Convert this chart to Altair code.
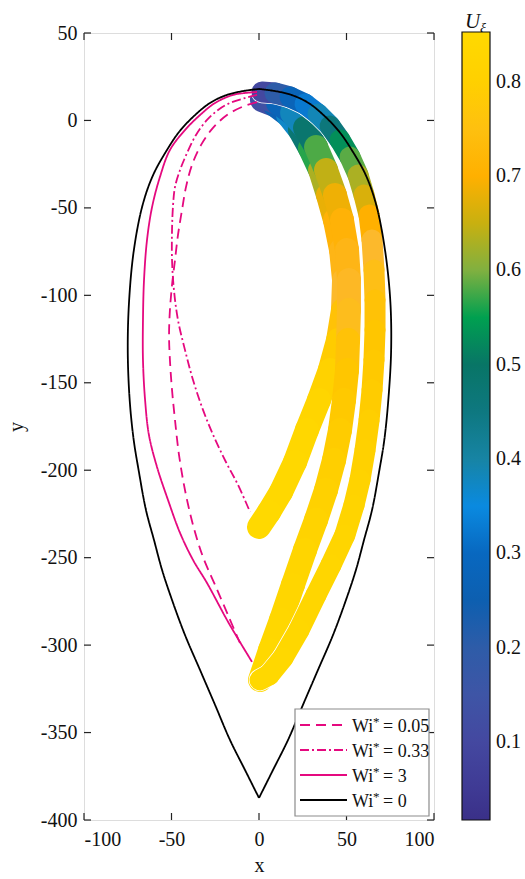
import altair as alt
import pandas as pd

# ---------------- data ----------------
# Wi* = 0 (black teardrop) : left half (top -> cusp) and right half (cusp -> top)
wi0L_x = [0, -9.1, -18.3, -28.0, -37.7, -45.7, -52.6, -60.5, -66.5, -71.5, -74.2, -75.0, -73.9,
          -71.6, -68.8, -64.6, -60.0, -55.4, -49.7, -42.3, -33.7, -25.1, -16.6, -8.0, 0]
wi0L_y = [18.0, 16.8, 14.6, 10.0, 2.0, -6.6, -16.9, -31.2, -48.3, -74.1, -102.7, -131.2, -159.8,
          -182.7, -199.9, -222.7, -239.9, -257.0, -274.2, -294.2, -314.2, -334.2, -354.2, -371.4, -387.4]
wi0R_x = [0, 8.0, 16.6, 25.1, 33.7, 42.3, 49.7, 55.4, 60.0, 64.6, 68.8, 71.6, 73.9, 75.5,
          75.0, 72.0, 67.0, 61.0, 53.0, 46.0, 38.0, 28.3, 18.5, 9.1, 0]
wi0R_y = [-387.4, -371.4, -354.2, -334.2, -314.2, -294.2, -274.2, -257.0, -239.9, -222.7, -199.9,
          -182.7, -159.8, -131.2, -102.7, -74.1, -48.3, -31.2, -16.9, -6.6, 2.0, 10.0, 14.6, 16.8, 18.0]

# Wi* = 3 (solid pink)
wi3_x = [-1.1, -8.0, -14.9, -25.1, -33.7, -42.3, -50.9, -56.6, -61.1, -64.0, -65.7, -66.3, -66.3,
         -65.1, -62.9, -58.3, -52.0, -45.1, -37.7, -29.7, -18.3, -10.9, -4.0]
wi3_y = [16.3, 15.7, 14.6, 10.0, 3.1, -5.5, -16.9, -32.3, -49.5, -68.4, -91.2, -114.1, -137.0,
         -159.8, -179.8, -198.1, -217.0, -235.9, -251.3, -264.5, -285.6, -298.2, -309.6]

# Wi* = 0.05 (dashed pink)
wi005_x = [-1.1, -9.7, -18.3, -26.3, -33.1, -38.3, -41.7, -44.0, -46.3, -48.0, -49.7, -50.9,
           -51.4, -50.9, -49.7, -48.0, -45.7, -42.3, -37.7, -32.0, -25.1, -17.7, -10.9]
wi005_y = [10.5, 7.7, 3.1, -4.3, -14.0, -25.5, -38.0, -51.2, -65.5, -79.8, -94.1, -108.4,
           -122.7, -137.0, -154.1, -171.3, -191.3, -211.3, -231.3, -249.6, -265.6, -282.8, -298.8]

# Wi* = 0.33 (dash-dot pink)
wi033_x = [-1.1, -8.0, -16.6, -23.4, -29.7, -36.0, -41.1, -45.1, -48.0, -49.1, -49.7, -49.7,
           -48.6, -46.3, -42.3, -37.7, -32.0, -25.7, -18.9, -12.0, -5.1]
wi033_y = [14.6, 12.8, 10.0, 6.0, 0.3, -8.3, -18.6, -28.3, -38.0, -48.3, -62.6, -79.8,
           -96.9, -114.1, -131.2, -148.4, -165.5, -181.0, -195.3, -208.4, -223.9]

# coloured particle paths (U_xi along path)
b1_x = [1.7, 9.1, 16.6, 23.4, 29.1, 34.9, 39.4, 43.4, 46.9, 48.6, 48.0, 45.2, 40.5, 34.3, 27.4,
        20.6, 12.6, 5.7, 0.0]
b1_y = [11.7, 8.8, 3.1, -5.5, -15.8, -28.3, -42.6, -56.9, -74.1, -91.2, -108.4, -125.5, -142.7,
        -159.8, -177.0, -195.3, -212.4, -223.9, -232.4]
b1_u = [0.05, 0.20, 0.32, 0.42, 0.53, 0.60, 0.66, 0.70, 0.71, 0.72, 0.74, 0.77, 0.80, 0.82, 0.83,
        0.84, 0.84, 0.85, 0.85]

b2_x = [2.3, 10.9, 18.9, 26.3, 32.6, 38.3, 43.4, 47.4, 50.3, 51.4, 51.4, 50.9, 50.3, 48.6, 46.3,
        42.9, 38.3, 32.6, 26.3, 19.4, 12.6, 6.3, 0.6]
b2_y = [13.4, 10.0, 4.3, -4.3, -15.2, -28.3, -42.6, -56.9, -74.1, -91.2, -108.4, -125.5, -142.7,
        -159.8, -177.0, -194.1, -211.3, -228.4, -245.6, -265.6, -285.6, -302.8, -319.9]
b2_u = [0.05, 0.22, 0.33, 0.43, 0.54, 0.62, 0.67, 0.70, 0.71, 0.72, 0.73, 0.75, 0.76, 0.77, 0.78,
        0.79, 0.80, 0.81, 0.82, 0.83, 0.83, 0.84, 0.84]

b3_x = [1.7, 9.1, 17.7, 26.3, 33.7, 40.6, 46.3, 52.0, 56.6, 60.0, 62.9, 64.6, 65.7, 66.3, 66.3,
        65.7, 64.6, 62.9, 60.6, 57.7, 54.3, 49.1, 41.1, 32.6, 22.9, 13.7, 5.7, 0.6]
b3_y = [16.3, 15.7, 13.4, 9.4, 3.7, -3.2, -11.2, -20.9, -31.2, -42.6, -54.1, -68.4, -85.5, -102.7,
        -119.8, -137.0, -154.1, -171.3, -188.4, -205.6, -219.9, -237.0, -254.2, -271.3, -291.3,
        -307.3, -317.1, -319.9]
b3_u = [0.05, 0.15, 0.25, 0.30, 0.35, 0.42, 0.50, 0.56, 0.61, 0.65, 0.68, 0.72, 0.74, 0.75, 0.76,
        0.77, 0.78, 0.79, 0.80, 0.81, 0.82, 0.82, 0.83, 0.83, 0.83, 0.84, 0.84, 0.84]

# colour map (colourbar)
cmap_stops = [0.017, 0.05, 0.10, 0.15, 0.20, 0.25, 0.30, 0.35, 0.40, 0.45, 0.50, 0.55, 0.60,
              0.65, 0.70, 0.73, 0.76, 0.80, 0.853]
cmap_colors = ["#3a3088", "#3f3a94", "#4448a0", "#3e55a6", "#2e5ca8", "#0d5fb0", "#0868c0",
               "#0a8ae0", "#1784a4", "#0e7880", "#087566", "#00a050", "#80b040", "#c8b010",
               "#ffb000", "#fcb92c", "#ffc400", "#ffd000", "#ffda00"]
cbar_ticks = [0.1, 0.2, 0.3, 0.4, 0.5, 0.6, 0.7, 0.8]

x_ticks = [-100, -50, 0, 50, 100]
y_ticks = [50, 0, -50, -100, -150, -200, -250, -300, -350, -400]

series_names = ["Wi* = 0.05", "Wi* = 0.33", "Wi* = 3", "Wi* = 0"]
legend_values = ["0.05", "0.33", "3", "0"]

# ---------------- tables ----------------
rows = []
for name, part, xs_, ys_ in [(series_names[0], "a", wi005_x, wi005_y),
                             (series_names[1], "a", wi033_x, wi033_y),
                             (series_names[2], "a", wi3_x, wi3_y),
                             (series_names[3], "L", wi0L_x, wi0L_y),
                             (series_names[3], "R", wi0R_x, wi0R_y)]:
    for i, (a, b) in enumerate(zip(xs_, ys_)):
        rows.append({"series": name, "part": part, "x": a, "y": b, "i": i})
lines_df = pd.DataFrame(rows)


def segments(bx, by, bu):
    out = []
    for i in range(len(bx) - 1):
        out.append({"x": bx[i], "y": by[i], "x2": bx[i + 1], "y2": by[i + 1],
                    "u": (bu[i] + bu[i + 1]) / 2})
    return pd.DataFrame(out)


seg1 = segments(b1_x, b1_y, b1_u)
seg2 = segments(b2_x, b2_y, b2_u)
seg3 = segments(b3_x, b3_y, b3_u)

W, H = 350, 787
FONT = "Liberation Serif"
PINK = "#e5097f"
DASHES = {series_names[0]: [10, 6], series_names[1]: [9, 3, 2, 3],
          series_names[2]: [1, 0], series_names[3]: [1, 0]}
COLORS = {series_names[0]: PINK, series_names[1]: PINK, series_names[2]: PINK,
          series_names[3]: "black"}

xs = alt.Scale(domain=[-100, 100], nice=False, zero=False)
ys = alt.Scale(domain=[-400, 50], nice=False, zero=False)
xaxis = alt.Axis(values=x_ticks, title="x", grid=False, ticks=False, domain=False,
                 labelExpr="toString(datum.value)",
                 labelFont=FONT, labelFontSize=20, labelPadding=9, labelColor="#111",
                 titleFont=FONT, titleFontSize=20, titleFontWeight="normal", titlePadding=6,
                 titleColor="#111")
yaxis = alt.Axis(values=y_ticks, title="y", grid=False, ticks=False, domain=False,
                 labelExpr="toString(datum.value)",
                 labelFont=FONT, labelFontSize=20, labelPadding=7, labelColor="#111",
                 titleFont=FONT, titleFontSize=20, titleFontWeight="normal", titlePadding=14,
                 titleColor="#111")

cscale = alt.Scale(domain=cmap_stops, range=cmap_colors, interpolate="rgb")
clegend = alt.Legend(orient="none", legendX=378, legendY=-1, title=None, direction="vertical",
                     gradientLength=788, gradientThickness=28, gradientStrokeColor="#111",
                     gradientStrokeWidth=1.2, values=cbar_ticks, format=".1f",
                     labelFont=FONT, labelFontSize=20, labelOffset=6, labelColor="#111",
                     padding=0, labelOverlap=False)


def band(df, width, legend=None):
    return alt.Chart(df).mark_rule(strokeWidth=width, strokeCap="round").encode(
        x=alt.X("x:Q", scale=xs, axis=xaxis),
        y=alt.Y("y:Q", scale=ys, axis=yaxis),
        x2="x2:Q", y2="y2:Q",
        color=alt.Color("u:Q", scale=cscale, legend=legend),
    )


band1 = band(seg1, 24, clegend)
band2 = band(seg2, 24)
under3 = alt.Chart(seg3).mark_rule(strokeWidth=22.5, strokeCap="round", color="white").encode(
    x=alt.X("x:Q", scale=xs, axis=xaxis), y=alt.Y("y:Q", scale=ys, axis=yaxis),
    x2="x2:Q", y2="y2:Q")
band3 = band(seg3, 21)

lines = alt.Chart(lines_df).mark_line(strokeWidth=1.8, interpolate="catmull-rom").encode(
    x=alt.X("x:Q", scale=xs, axis=xaxis),
    y=alt.Y("y:Q", scale=ys, axis=yaxis),
    order="i:Q",
    detail="part:N",
    stroke=alt.Stroke("series:N",
                      scale=alt.Scale(domain=series_names,
                                      range=[COLORS[s] for s in series_names]),
                      legend=None),
    strokeDash=alt.StrokeDash("series:N",
                              scale=alt.Scale(domain=series_names,
                                              range=[DASHES[s] for s in series_names]),
                              legend=None),
)

xt = pd.DataFrame({"v": x_ticks})
yt = pd.DataFrame({"v": y_ticks})
tick_style = dict(color="#222", strokeWidth=1.2)
xt_bot = alt.Chart(xt).mark_rule(**tick_style).encode(
    x=alt.X("v:Q", scale=xs, axis=xaxis), y=alt.value(H), y2=alt.value(H - 7))
xt_top = alt.Chart(xt).mark_rule(**tick_style).encode(
    x=alt.X("v:Q", scale=xs, axis=xaxis), y=alt.value(0), y2=alt.value(7))
yt_left = alt.Chart(yt).mark_rule(**tick_style).encode(
    y=alt.Y("v:Q", scale=ys, axis=yaxis), x=alt.value(0), x2=alt.value(7))
yt_right = alt.Chart(yt).mark_rule(**tick_style).encode(
    y=alt.Y("v:Q", scale=ys, axis=yaxis), x=alt.value(W), x2=alt.value(W - 7))

one = pd.DataFrame({"t": [""]})
cb_u = alt.Chart(pd.DataFrame({"t": ["U"]})).mark_text(
    font=FONT, fontSize=21, fontStyle="italic", align="left", baseline="alphabetic",
    color="#111").encode(text="t:N", x=alt.value(381), y=alt.value(-5))
cb_xi = alt.Chart(pd.DataFrame({"t": ["ξ"]})).mark_text(
    font=FONT, fontSize=14, fontStyle="italic", align="left", baseline="alphabetic",
    color="#111").encode(text="t:N", x=alt.value(396), y=alt.value(0))

# manual legend (box + samples + labels with superscript star)
LX0, LX1, LY0, LY1 = 211, 345, 676, 783
leg_layers = [alt.Chart(one).mark_rect(fill="white", stroke="#8c8c8c", strokeWidth=1.2).encode(
    x=alt.value(LX0), x2=alt.value(LX1), y=alt.value(LY0), y2=alt.value(LY1))]
for k, (name, val) in enumerate(zip(series_names, legend_values)):
    ry = LY0 + 16 + 25 * k
    leg_layers.append(alt.Chart(one).mark_rule(
        color=COLORS[name], strokeDash=DASHES[name], strokeWidth=2).encode(
        x=alt.value(LX0 + 5), x2=alt.value(LX0 + 52), y=alt.value(ry), y2=alt.value(ry)))
    leg_layers.append(alt.Chart(pd.DataFrame({"t": ["Wi"]})).mark_text(
        font=FONT, fontSize=18, align="left", baseline="alphabetic", color="#111").encode(
        text="t:N", x=alt.value(LX0 + 57), y=alt.value(ry + 7)))
    leg_layers.append(alt.Chart(pd.DataFrame({"t": ["*"]})).mark_text(
        font=FONT, fontSize=13, align="left", baseline="alphabetic", color="#111").encode(
        text="t:N", x=alt.value(LX0 + 78), y=alt.value(ry + 1)))
    leg_layers.append(alt.Chart(pd.DataFrame({"t": ["= " + val]})).mark_text(
        font=FONT, fontSize=18, align="left", baseline="alphabetic", color="#111").encode(
        text="t:N", x=alt.value(LX0 + 88), y=alt.value(ry + 7)))

chart = alt.layer(
    band1, band2, under3, band3, lines, xt_bot, xt_top, yt_left, yt_right, cb_u, cb_xi,
    *leg_layers
).properties(
    width=W, height=H,
    autosize=alt.AutoSizeParams(type="none"),
    padding={"left": 84, "top": 33, "right": 91, "bottom": 59},
).configure_view(stroke="#222", strokeWidth=1.3).configure(background="white")

chart.save("out.html", embed_options={"renderer": "svg", "actions": False})
